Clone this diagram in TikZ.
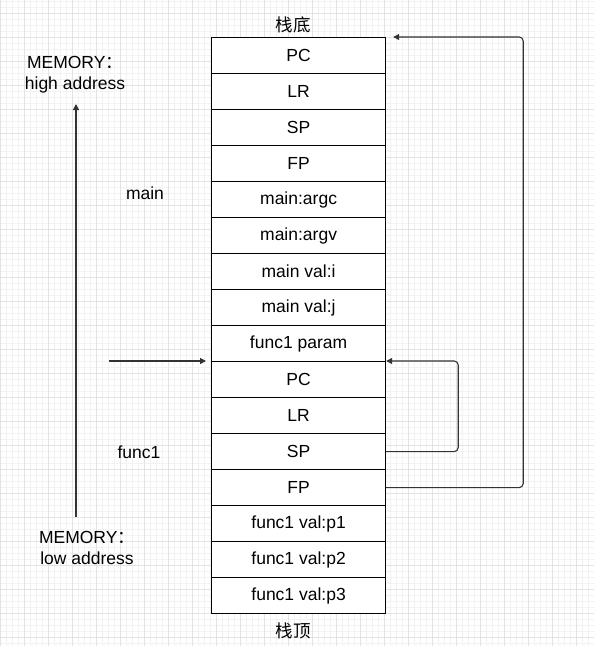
\documentclass[tikz,border=0pt]{standalone}
\usepackage{fontspec}
\setmainfont{Liberation Sans}
\newfontfamily\cjk{Noto Sans CJK SC}
\usetikzlibrary{arrows.meta}
\tikzset{
  cell/.style={draw,line width=1.2pt,minimum width=174pt,minimum height=36pt,inner sep=0pt,anchor=north west},
  link/.style={line width=1.1pt,draw=black!80,rounded corners=4pt,-{Triangle[length=6pt,width=6pt]}},
  lbl/.style={align=center,inner sep=0pt,font=\fontsize{17.5}{21}\selectfont}
}
\begin{document}
\begin{tikzpicture}[x=1pt,y=-1pt,font=\fontsize{17.5}{21}\selectfont]
        \useasboundingbox (0,0) rectangle (594,646);
        \fill[white] (0,0) rectangle (594,646);
        % grid
        \foreach \x in {0,6,...,594} \draw[black!5,line width=0.6pt] (\x,0) -- (\x,646);
        \foreach \y in {1.3,7.3,...,646} \draw[black!5,line width=0.6pt] (0,\y) -- (594,\y);
        \foreach \x in {0,24,...,594} \draw[black!11,line width=0.8pt] (\x,0) -- (\x,646);
        \foreach \y in {13.3,37.3,...,646} \draw[black!11,line width=0.8pt] (0,\y) -- (594,\y);
        % stack
        \foreach \t [count=\i] in {PC,LR,SP,FP,main:argc,main:argv,main val:i,main val:j,func1 param,PC,LR,SP,FP,func1 val:p1,func1 val:p2,func1 val:p3}
          \node[cell,fill=white] (cell\i) at (211,{37+36*(\i-1)}) {\t};
        \node[lbl] (bottom) at (293,25) {\cjk 栈底};
        \node[lbl] (top) at (293,631) {\cjk 栈顶};
        \node[lbl] (main) at (145,193) {main};
        \node[lbl] (func) at (139,452) {func1};
        \node[lbl] (high) at (75,75) {MEMORY{\cjk ：}\\high address};
        \node[lbl] (low) at (87,548) {MEMORY{\cjk ：}\\low address};
        % memory direction
        \coordinate (lowend) at (76,517);
        \coordinate (highend) at (76,104);
        \draw[link] (lowend) -- (highend);
        \coordinate (callin) at (109,361);
        \draw[link] (callin) -- ([xshift=-5pt]cell10.north west);
        % saved pointers
        \draw[link] (cell12.east) -- ++(72,0) |- (cell10.north east);
        \draw[link] (cell13.east) -- ++(137,0) |- ([xshift=7pt]cell1.north east);
\end{tikzpicture}
\end{document}
